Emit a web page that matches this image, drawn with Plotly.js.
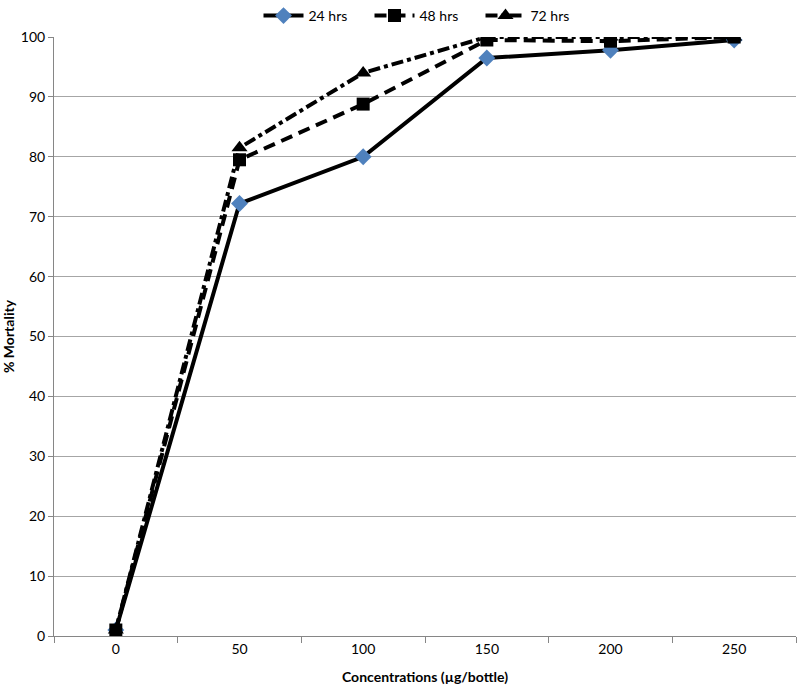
<!DOCTYPE html>
<html>
<head>
<meta charset="utf-8">
<script src="https://cdn.plot.ly/plotly-3.0.1.min.js"></script>
<style>
  html, body { margin: 0; padding: 0; background: #fff; }
  #chart { width: 797px; height: 698px; }
</style>
</head>
<body>
<div id="chart"></div>
<script>
// concentrations in µg/bottle
const concentrations = ['0', '50', '100', '150', '200', '250'];
const mortality24 = [1, 72.2, 80, 96.5, 97.8, 99.5];
const mortality48 = [1, 79.5, 88.8, 99.5, 99.3, 100];
const mortality72 = [1, 81.5, 94, 100, 100, 100];
const yTicks = [0, 10, 20, 30, 40, 50, 60, 70, 80, 90, 100];

const axisGrey = '#868686';

const traces = [
    {
        x: concentrations, y: mortality24, name: '24 hrs',
        mode: 'lines+markers',
        line: { color: 'black', width: 4 },
        marker: { symbol: 'diamond', color: '#4F81BD', size: 13 }
    },
    {
        x: concentrations, y: mortality48, name: '48 hrs',
        mode: 'lines+markers',
        line: { color: 'black', width: 4, dash: '12px,7px' },
        marker: { symbol: 'square', color: 'black', size: 13 }
    },
    {
        x: concentrations, y: mortality72, name: '72 hrs',
        mode: 'lines+markers',
        line: { color: 'black', width: 4, dash: 'dashdot' },
        marker: { symbol: 'triangle-up', color: 'black', size: 14 }
    }
];

const layout = {
    width: 797,
    height: 698,
    margin: { l: 54, r: 1, t: 37, b: 62, autoexpand: false },
    paper_bgcolor: 'white',
    plot_bgcolor: 'white',
    font: { family: 'Lato, "Open Sans", sans-serif', size: 14, color: 'black' },
    showlegend: true,
    legend: {
        orientation: 'h',
        x: 0.5, xanchor: 'center',
        yref: 'container',
        y: 1, yanchor: 'top',
        font: { size: 14 },
        itemwidth: 40,
        entrywidth: 56
    },
    xaxis: {
        type: 'category',
        range: [-0.5, 5.5],
        tickson: 'boundaries',
        ticks: 'outside',
        ticklen: 6,
        tickcolor: axisGrey,
        showline: true,
        linecolor: axisGrey,
        linewidth: 1,
        showgrid: false,
        zeroline: false,
        title: { text: '<b>Concentrations (µg/bottle)</b>', font: { size: 14 }, standoff: 16 }
    },
    yaxis: {
        range: [0, 100],
        tickvals: yTicks,
        ticks: 'outside',
        ticklen: 5,
        tickcolor: axisGrey,
        showline: true,
        linecolor: axisGrey,
        linewidth: 1,
        showgrid: true,
        gridcolor: '#a6a6a6',
        gridwidth: 1,
        zeroline: false,
        title: { text: '<b>% Mortality</b>', font: { size: 14 }, standoff: 10 }
    }
};

Plotly.newPlot('chart', traces, layout, { displayModeBar: false });
</script>
</body>
</html>
